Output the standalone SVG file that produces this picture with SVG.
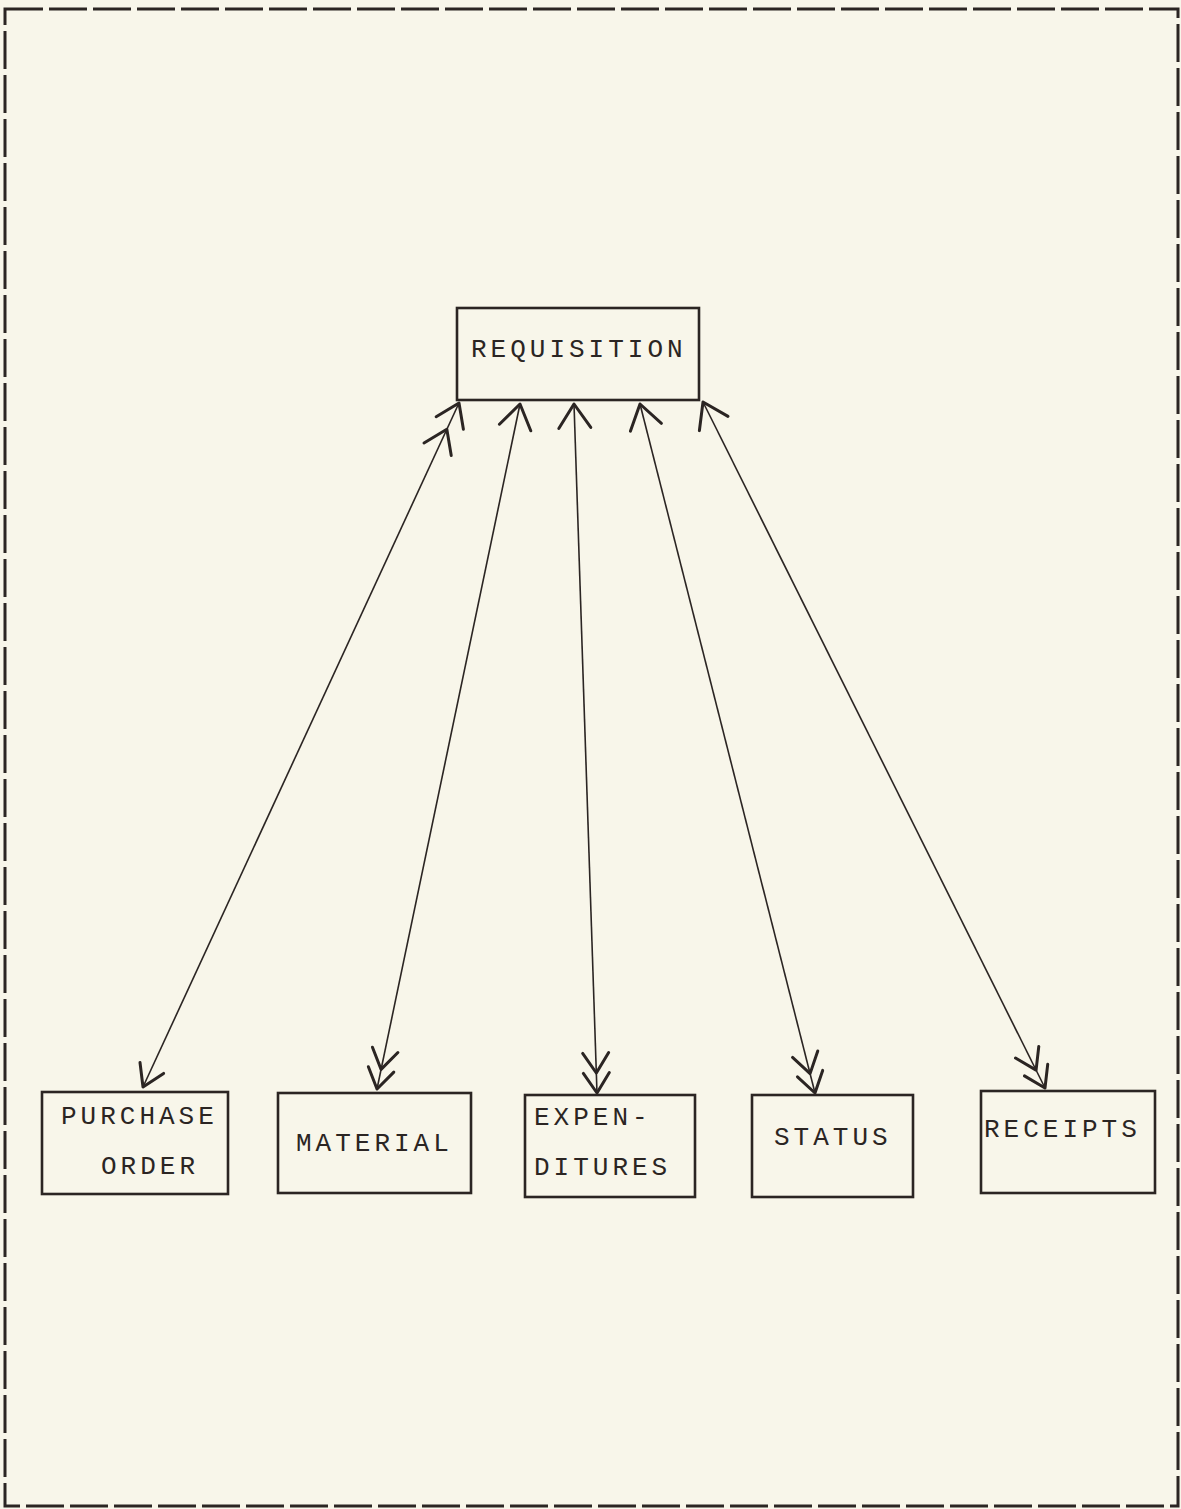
<svg xmlns="http://www.w3.org/2000/svg" width="1181" height="1509" viewBox="0 0 1181 1509">
  <style>
    .box { fill: none; stroke: #2b2523; stroke-width: 2.6; }
    .lbl { font-family: "Liberation Mono", "Courier New", monospace; font-size: 26px; letter-spacing: 4px; fill: #2b2523; }
    .conn { stroke: #2b2523; stroke-width: 1.6; fill: none; }
    .head { fill: none; stroke: #2b2523; stroke-width: 3; stroke-linecap: round; stroke-linejoin: round; }
  </style>
  <defs>
    <marker id="bigSingle" markerUnits="userSpaceOnUse" orient="auto-start-reverse" refX="0" refY="0" markerWidth="1" markerHeight="1" overflow="visible">
      <path class="head" d="M-24,-16 L0,0 L-24,16"/>
    </marker>
    <marker id="bigDouble" markerUnits="userSpaceOnUse" orient="auto-start-reverse" refX="0" refY="0" markerWidth="1" markerHeight="1" overflow="visible">
      <path class="head" d="M-22,-15 L0,0 L-22,15 M-51,-15 L-29,0 L-51,15"/>
    </marker>
    <marker id="smallSingle" markerUnits="userSpaceOnUse" orient="auto-start-reverse" refX="0" refY="0" markerWidth="1" markerHeight="1" overflow="visible">
      <path class="head" d="M-21,-13 L0,0 L-21,13"/>
    </marker>
    <marker id="smallDouble" markerUnits="userSpaceOnUse" orient="auto-start-reverse" refX="0" refY="0" markerWidth="1" markerHeight="1" overflow="visible">
      <path class="head" d="M-20,-13 L0,0 L-20,13 M-40,-13 L-20,0 L-40,13"/>
    </marker>
  </defs>
  <rect x="0" y="0" width="1181" height="1509" fill="#f8f6ea"/>
  <rect x="5" y="9" width="1173" height="1497" fill="none" stroke="#2b2523" stroke-width="3" stroke-dasharray="38 6"/>

  <g id="connectors">
    <line class="conn" x1="459" y1="403" x2="143" y2="1087" marker-start="url(#bigDouble)" marker-end="url(#smallSingle)"/>
    <line class="conn" x1="520" y1="404" x2="377" y2="1089" marker-start="url(#bigSingle)" marker-end="url(#smallDouble)"/>
    <line class="conn" x1="574" y1="404" x2="597" y2="1093" marker-start="url(#bigSingle)" marker-end="url(#smallDouble)"/>
    <line class="conn" x1="640" y1="404" x2="815" y2="1093" marker-start="url(#bigSingle)" marker-end="url(#smallDouble)"/>
    <line class="conn" x1="703" y1="402" x2="1045" y2="1088" marker-start="url(#bigSingle)" marker-end="url(#smallDouble)"/>
  </g>

  <g id="requisition">
    <rect class="box" x="457" y="308" width="242" height="92"/>
    <text class="lbl" x="471" y="357">REQUISITION</text>
  </g>
  <g id="purchase-order">
    <rect class="box" x="42" y="1092" width="186" height="102"/>
    <text class="lbl" x="61" y="1124">PURCHASE</text>
    <text class="lbl" x="101" y="1174">ORDER</text>
  </g>
  <g id="material">
    <rect class="box" x="278" y="1093" width="193" height="100"/>
    <text class="lbl" x="296" y="1151">MATERIAL</text>
  </g>
  <g id="expenditures">
    <rect class="box" x="525" y="1095" width="170" height="102"/>
    <text class="lbl" x="534" y="1125">EXPEN-</text>
    <text class="lbl" x="534" y="1175">DITURES</text>
  </g>
  <g id="status">
    <rect class="box" x="752" y="1095" width="161" height="102"/>
    <text class="lbl" x="774" y="1145">STATUS</text>
  </g>
  <g id="receipts">
    <rect class="box" x="981" y="1091" width="174" height="102"/>
    <text class="lbl" x="984" y="1137">RECEIPTS</text>
  </g>
</svg>
